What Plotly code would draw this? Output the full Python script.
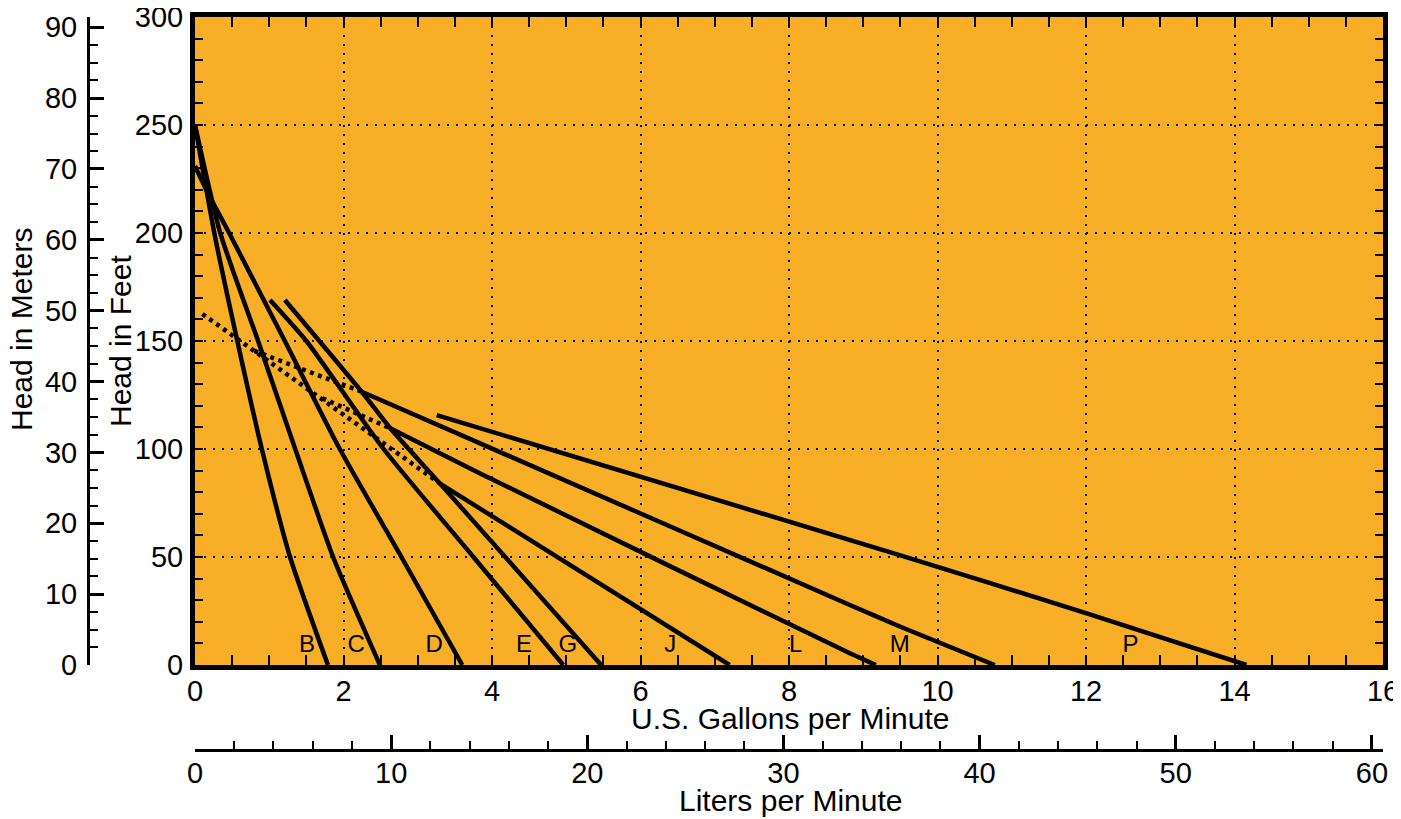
"""Pump performance chart: head vs flow for pump models B..P."""

import plotly.graph_objects as go

# Unit conversions for the secondary axes
FT_TO_M = 0.3048
GAL_TO_L = 3.785411784

GPM_MAX = 16
FT_MAX = 300

# Solid pump curves, flow in US gpm and head in feet
B_gpm = [0, 0.26, 0.57, 0.90, 1.28, 1.79]
B_ft = [250, 200, 150, 100, 50, 0]

C_gpm = [0, 0.34, 0.85, 1.35, 1.86, 2.49]
C_ft = [250, 200, 150, 100, 50, 0]

D_gpm = [0, 0.18, 0.46, 1.21, 1.95, 2.78, 3.60]
D_ft = [231, 218, 200, 150, 100, 50, 0]

E_gpm = [1.01, 1.50, 2.54, 3.75, 4.96]
E_ft = [169, 150, 100, 50, 0]

G_gpm = [1.21, 2.245, 2.63, 3.30, 5.47]
G_ft = [169, 126.5, 109.6, 84, 0]

J_gpm = [3.30, 7.20]
J_ft = [84, 0]

L_gpm = [2.63, 3.84, 8.82, 9.17]
L_ft = [109.6, 88.7, 5.4, 0]

M_gpm = [2.245, 3.84, 8.82, 9.50, 10.77]
M_ft = [126.5, 102.6, 27.8, 17.7, 0]

P_gpm = [3.255, 9.49, 12.01, 14.16]
P_ft = [115.7, 50.9, 23.9, 0]

# Dotted extensions
J_dot_gpm = [0.10, 3.30]
J_dot_ft = [162.5, 84]
M_dot_gpm = [0.80, 2.245]
M_dot_ft = [145.4, 126.5]
L_dot_gpm = [1.715, 2.63]
L_dot_ft = [123.5, 109.6]

# Curve letters along the bottom
label_text = ["B", "C", "D", "E", "G", "J", "L", "M", "P"]
label_gpm = [1.51, 2.17, 3.22, 4.43, 5.02, 6.40, 8.09, 9.49, 12.60]
label_ft = [8.8] * len(label_text)

solid = {
    "B": (B_gpm, B_ft),
    "C": (C_gpm, C_ft),
    "D": (D_gpm, D_ft),
    "E": (E_gpm, E_ft),
    "G": (G_gpm, G_ft),
    "J": (J_gpm, J_ft),
    "L": (L_gpm, L_ft),
    "M": (M_gpm, M_ft),
    "P": (P_gpm, P_ft),
}
dotted = {
    "J": (J_dot_gpm, J_dot_ft),
    "M": (M_dot_gpm, M_dot_ft),
    "L": (L_dot_gpm, L_dot_ft),
}

FONT = "Liberation Sans, Arial, Helvetica, sans-serif"
BG = "#F8AF27"

# Figure geometry in px. The page puts the figure 8px in from the corner,
# so everything is laid out in figure coordinates (screen - 8).
W, H = 1385, 811
plot_left, plot_right = 187, 1375
plot_top, plot_bottom = 9, 657
meters_x = 80
liters_y = 742
ML, MR, MT, MB = 32, W - plot_right, plot_top, 62
paper_w = W - ML - MR
paper_h = H - MT - MB
x_dom0 = (plot_left - ML) / paper_w
y_dom0 = (H - MB - plot_bottom) / paper_h
meters_pos = (meters_x - ML) / paper_w
liters_pos = (H - MB - liters_y) / paper_h


def px_to_paper(fx, fy):
    """Figure pixel position -> paper coordinates."""
    return (fx - ML) / paper_w, (H - MB - fy) / paper_h


fig = go.Figure()

for name, (gx, hy) in solid.items():
    fig.add_trace(go.Scatter(
        x=gx, y=hy, mode="lines", name=name,
        line=dict(color="black", width=4.5, shape="spline", smoothing=0.6),
        showlegend=False,
        hovertemplate=name + ": %{x:.2f} gpm, %{y:.0f} ft<extra></extra>",
    ))

for name, (gx, hy) in dotted.items():
    fig.add_trace(go.Scatter(
        x=gx, y=hy, mode="lines", name=name + " (dotted)",
        line=dict(color="black", width=4.5, dash="4px,4.5px"),
        showlegend=False, hoverinfo="skip",
    ))

fig.add_trace(go.Scatter(
    x=label_gpm, y=label_ft, mode="text", text=label_text,
    textfont=dict(family=FONT, size=24, color="black"),
    textposition="middle center", showlegend=False, hoverinfo="skip",
))

# invisible trace so the metric axes are drawn
fig.add_trace(go.Scatter(
    x=[0, GPM_MAX * GAL_TO_L], y=[0, FT_MAX * FT_TO_M],
    xaxis="x2", yaxis="y2", mode="lines",
    line=dict(color="rgba(0,0,0,0)"), showlegend=False, hoverinfo="skip",
))

tickfont = dict(family=FONT, size=29, color="black")
titlefont = dict(family=FONT, size=30, color="black")

fig.update_layout(
    width=W, height=H,
    margin=dict(l=ML, r=MR, t=MT, b=MB),
    template="none",
    paper_bgcolor="white",
    plot_bgcolor=BG,
    font=dict(family=FONT, color="black"),
    xaxis=dict(
        domain=[x_dom0, 1], range=[0, GPM_MAX], dtick=2,
        showline=True, linewidth=5, linecolor="black", mirror="allticks",
        ticks="inside", ticklen=10, tickwidth=2, tickcolor="black",
        minor=dict(dtick=0.5, ticks="inside", ticklen=10, tickwidth=2,
                   tickcolor="black", showgrid=False),
        showgrid=True, gridcolor="black", gridwidth=1.5, griddash="2px,7px",
        zeroline=False, tickfont=tickfont, ticklabelstandoff=-4,
        ticklabeloverflow="allow",
    ),
    yaxis=dict(
        domain=[y_dom0, 1], range=[0, FT_MAX], dtick=50,
        showline=True, linewidth=5, linecolor="black", mirror="allticks",
        ticks="inside", ticklen=8, tickwidth=2, tickcolor="black",
        minor=dict(dtick=10, ticks="inside", ticklen=8, tickwidth=2,
                   tickcolor="black", showgrid=False),
        showgrid=True, gridcolor="black", gridwidth=1.5, griddash="2px,7px",
        zeroline=False, tickfont=tickfont, ticklabelstandoff=1,
        ticklabeloverflow="allow",
    ),
    xaxis2=dict(
        overlaying="x", anchor="free", position=liters_pos, side="bottom",
        domain=[x_dom0, 1], range=[0, GPM_MAX * GAL_TO_L], dtick=10,
        showline=True, linewidth=3, linecolor="black",
        ticks="inside", ticklen=14, tickwidth=3, tickcolor="black",
        minor=dict(dtick=2, ticks="inside", ticklen=8, tickwidth=2,
                   tickcolor="black", showgrid=False),
        showgrid=False, zeroline=False, tickfont=tickfont,
        ticklabelstandoff=-4, ticklabeloverflow="allow",
    ),
    yaxis2=dict(
        overlaying="y", anchor="free", position=meters_pos, side="left",
        range=[0, FT_MAX * FT_TO_M], dtick=10,
        showline=True, linewidth=3, linecolor="black",
        ticks="inside", ticklen=14, tickwidth=3, tickcolor="black",
        minor=dict(dtick=2.5, ticks="inside", ticklen=8, tickwidth=2,
                   tickcolor="black", showgrid=False),
        showgrid=False, zeroline=False, tickfont=tickfont,
        ticklabelstandoff=4, ticklabeloverflow="allow",
    ),
)

# Axis titles, placed at their positions in the reference
titles = [
    ("U.S. Gallons per Minute", 782, 710, 0),
    ("Liters per Minute", 782, 792, 0),
    ("Head in Feet", 112, 333, -90),
    ("Head in Meters", 13, 322, -90),
]
for text, fx, fy, angle in titles:
    px, py = px_to_paper(fx, fy)
    fig.add_annotation(
        text=text, x=px, y=py, xref="paper", yref="paper",
        xanchor="center", yanchor="middle", textangle=angle,
        showarrow=False, font=titlefont,
    )

fig.write_html("out.html")
